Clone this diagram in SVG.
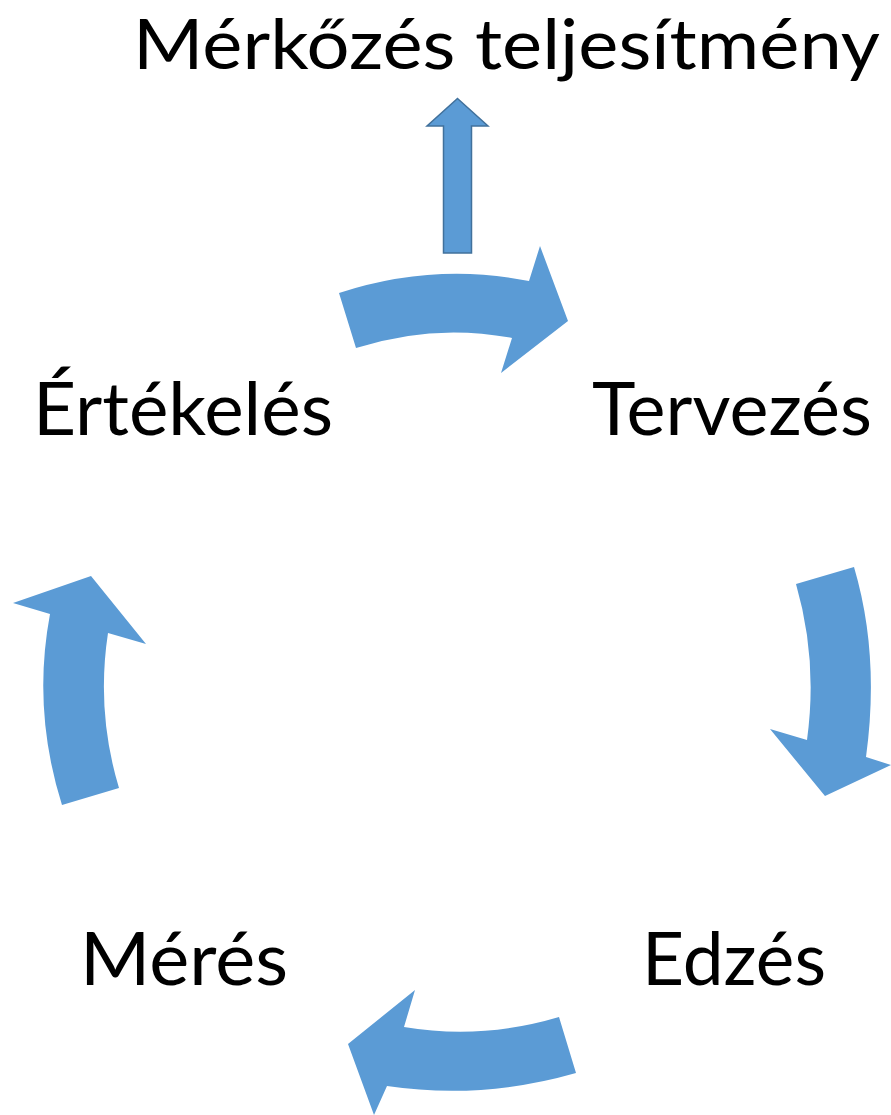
<svg xmlns="http://www.w3.org/2000/svg" width="891" height="1115" viewBox="0 0 891 1115">
  <style>
    .label { font-family: Lato, "Open Sans", "Liberation Sans", sans-serif; font-size: 73px; fill: #000000; }
    .title { font-size: 70px; }
    .cycle { fill: #5B9BD5; stroke: none; }
    .up { fill: #5B9BD5; stroke: #41719C; stroke-width: 1.5; stroke-linejoin: miter; }
  </style>
  <rect width="891" height="1115" fill="#ffffff"/>

  <!-- Cycle stages -->
  <g id="node-merkozes">
    <text class="label title" x="133" y="69" textLength="747" lengthAdjust="spacingAndGlyphs">Mérkőzés teljesítmény</text>
  </g>
  <g id="node-tervezes">
    <text class="label" x="592" y="435" textLength="280" lengthAdjust="spacingAndGlyphs">Tervezés</text>
  </g>
  <g id="node-edzes">
    <text class="label" x="642" y="985" textLength="184" lengthAdjust="spacingAndGlyphs">Edzés</text>
  </g>
  <g id="node-meres">
    <text class="label" x="80" y="985" textLength="208" lengthAdjust="spacingAndGlyphs">Mérés</text>
  </g>
  <g id="node-ertekeles">
    <text class="label" x="33" y="435" textLength="300" lengthAdjust="spacingAndGlyphs">Értékelés</text>
  </g>

  <!-- Curved cycle arrows and the output arrow -->
  <g id="connectors">
    <!-- Értékelés -> Tervezés -->
    <path class="cycle" d="M 339,293 Q 434,262 529,281 L 540,246 L 568,321 L 501,373 L 512,338 Q 434,323 356,348 Z"/>
    <!-- Tervezés -> Edzés -->
    <path class="cycle" d="M 796,584 L 854,567 Q 880,655 866,757 L 891,765 L 825,796 L 770,729 L 807,740 Q 818,660 796,584 Z"/>
    <!-- Edzés -> Mérés -->
    <path class="cycle" d="M 559,1017 L 576,1073 Q 482,1100 387,1086 L 374,1115 L 348,1044 L 415,990 L 404,1027 Q 482,1040 559,1017 Z"/>
    <!-- Mérés -> Értékelés -->
    <path class="cycle" d="M 62,805 L 119,788 Q 96,712 108,633 L 146,644 L 91,576 L 13,603 L 50,614 Q 32,710 62,805 Z"/>
    <!-- Értékelés/Tervezés -> Mérkőzés teljesítmény -->
    <path class="up" d="M 457.5,98.5 L 488,126 L 471.5,126 L 471.5,253 L 443.5,253 L 443.5,126 L 427,126 Z"/>
  </g>
</svg>
